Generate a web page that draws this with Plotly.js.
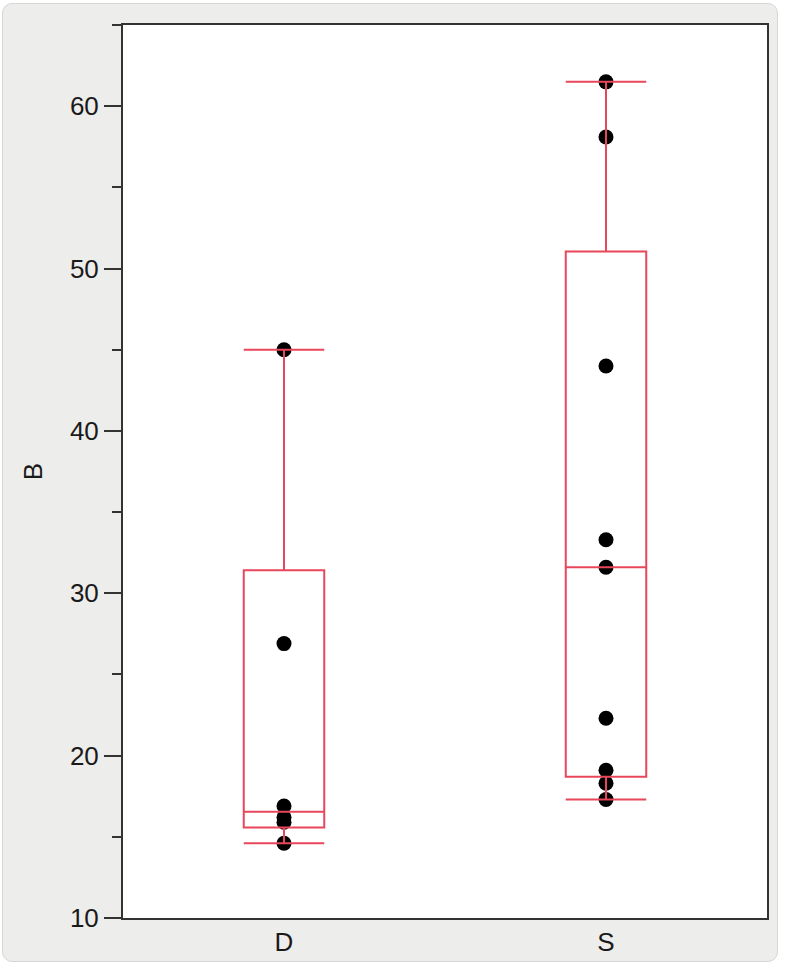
<!DOCTYPE html>
<html>
<head>
<meta charset="utf-8">
<script src="https://cdn.plot.ly/plotly-3.0.1.min.js"></script>
<style>
  html, body { margin: 0; padding: 0; background: #ffffff; }
  #panel { position: absolute; left: 2px; top: 3px; width: 774px; height: 957px;
           background: #ededeb; border: 1px solid #d6d6d4; border-radius: 10px; }
  #chart { position: absolute; left: 0; top: 0; width: 785px; height: 968px; }
</style>
</head>
<body>
<div id="panel"></div>
<div id="chart"></div>
<script>
// Data
const categories = ['D', 'S'];
const valuesD = [45.0, 26.9, 16.9, 16.2, 15.9, 14.6];
const valuesS = [61.5, 58.1, 44.0, 33.3, 31.6, 22.3, 19.1, 18.3, 17.3];
const yTitle = 'B';

// Quantiles as the source software (JMP) computes them: position p*(n+1)
function quantile(sorted, p) {
  const n = sorted.length;
  let pos = p * (n + 1);
  if (pos <= 1) return sorted[0];
  if (pos >= n) return sorted[n - 1];
  const lo = Math.floor(pos);
  const frac = pos - lo;
  return sorted[lo - 1] + frac * (sorted[lo] - sorted[lo - 1]);
}
function stats(vals) {
  const s = vals.slice().sort((a, b) => a - b);
  const q1 = quantile(s, 0.25), med = quantile(s, 0.5), q3 = quantile(s, 0.75);
  const iqr = q3 - q1;
  const lo = Math.min(...s.filter(v => v >= q1 - 1.5 * iqr));
  const hi = Math.max(...s.filter(v => v <= q3 + 1.5 * iqr));
  return { q1, med, q3, lo, hi };
}

const groups = [valuesD, valuesS];
const boxColor = '#e8475b';
const traces = [];
groups.forEach((vals, i) => {
  const xs = vals.map(() => categories[i]);
  // points layer (drawn first so the red box lines sit on top)
  traces.push({
    type: 'box', x: xs, y: vals, name: categories[i] + ' pts',
    boxpoints: 'all', jitter: 0, pointpos: 0,
    width: 0.25, whiskerwidth: 1,
    line: { color: 'rgba(0,0,0,0)', width: 0 },
    fillcolor: 'rgba(0,0,0,0)',
    marker: { color: '#000000', size: 15, line: { width: 0 } },
    hoverinfo: 'y', showlegend: false
  });
  const st = stats(vals);
  // box layer
  traces.push({
    type: 'box', x: [categories[i]], name: categories[i],
    q1: [st.q1], median: [st.med], q3: [st.q3],
    lowerfence: [st.lo], upperfence: [st.hi],
    boxpoints: false,
    width: 0.25, whiskerwidth: 1,
    line: { color: boxColor, width: 2 },
    fillcolor: 'rgba(0,0,0,0)',
    hoverinfo: 'y', showlegend: false
  });
});

const axisFont = { family: 'Liberation Sans, Arial, sans-serif', size: 26, color: '#1a1a1a' };

const layout = {
  width: 785, height: 968,
  margin: { l: 123, r: 18, t: 25, b: 50, pad: 0 },
  paper_bgcolor: 'rgba(0,0,0,0)',
  plot_bgcolor: '#ffffff',
  boxmode: 'overlay',
  showlegend: false,
  font: axisFont,
  xaxis: {
    type: 'category',
    categoryorder: 'array', categoryarray: categories,
    range: [-0.5, 1.5],
    showline: true, linecolor: '#333333', linewidth: 2, mirror: true,
    showgrid: false, zeroline: false,
    ticks: '', tickfont: axisFont
  },
  xaxis2: {
    overlaying: 'x', anchor: 'y', side: 'bottom',
    type: 'linear', range: [-0.5, 1.5],
    tickmode: 'array', tickvals: [0.5], ticktext: [''],
    ticks: 'outside', ticklen: 15, tickwidth: 2, tickcolor: '#333333',
    showline: false, showgrid: false, zeroline: false, showticklabels: false
  },
  yaxis: {
    range: [10, 65],
    tickmode: 'linear', tick0: 10, dtick: 10,
    ticks: 'outside', ticklen: 17, tickwidth: 2, tickcolor: '#333333',
    minor: { dtick: 5, tick0: 10, ticks: 'outside', ticklen: 9, tickwidth: 2, tickcolor: '#333333', showgrid: false },
    showline: true, linecolor: '#333333', linewidth: 2, mirror: true,
    showgrid: false, zeroline: false,
    tickfont: axisFont,
    title: { text: yTitle, font: axisFont, standoff: 20 }
  }
};

Plotly.newPlot('chart', traces, layout, { displayModeBar: false, staticPlot: true });
</script>
</body>
</html>
